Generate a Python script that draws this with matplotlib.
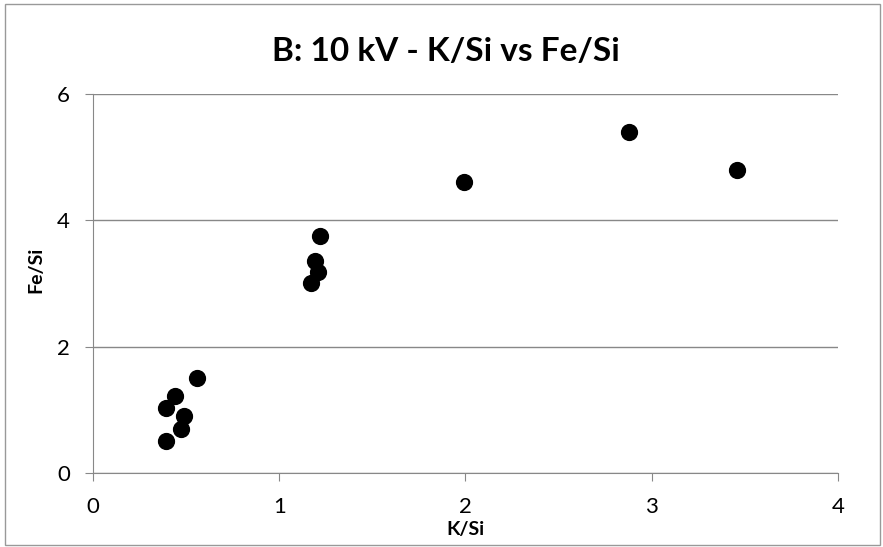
import matplotlib.pyplot as plt
from matplotlib.patches import Rectangle

# K/Si and Fe/Si ratios at 10 kV
k_si = [0.39, 0.39, 0.44, 0.47, 0.49, 0.56, 1.17, 1.19, 1.21, 1.22, 1.99, 2.88, 3.46]
fe_si = [0.50, 1.03, 1.22, 0.70, 0.90, 1.50, 3.00, 3.35, 3.18, 3.75, 4.60, 5.40, 4.80]

x_ticks = [0, 1, 2, 3, 4]
y_ticks = [0, 2, 4, 6]

plt.rcParams['font.family'] = ['Lato', 'DejaVu Sans']

fig = plt.figure(figsize=(8.83, 5.47), dpi=100)
ax = fig.add_axes([0.1053, 0.1353, 0.8437, 0.6929])

# outer chart border
fig.patches.append(Rectangle((0.006, 0.004), 0.991, 0.988, transform=fig.transFigure,
                             fill=False, edgecolor='#999999', linewidth=1.0))

ax.scatter(k_si, fe_si, s=130, color='black', zorder=3)

ax.set_xlim(0, 4)
ax.set_ylim(0, 6)
ax.set_xticks(x_ticks)
ax.set_yticks(y_ticks)
ax.tick_params(axis='both', labelsize=16, length=5.5, color='#888888', direction='out')
ax.tick_params(axis='x', pad=12)
ax.tick_params(axis='y', pad=11)

ax.grid(axis='y', color='#888888', linewidth=1.0)
ax.set_axisbelow(True)
for side in ['top', 'right']:
    ax.spines[side].set_visible(False)
for side in ['left', 'bottom']:
    ax.spines[side].set_color('#888888')

fig.text(0.505, 0.905, 'B: 10 kV - K/Si vs Fe/Si', fontsize=24, fontweight='bold',
         ha='center', va='center')
ax.set_xlabel('K/Si', fontsize=14, fontweight='bold', labelpad=3)
ax.set_ylabel('Fe/Si', fontsize=14, fontweight='bold')
ax.yaxis.set_label_coords(-0.065, 0.536)

fig.savefig('out.png', dpi=100)
